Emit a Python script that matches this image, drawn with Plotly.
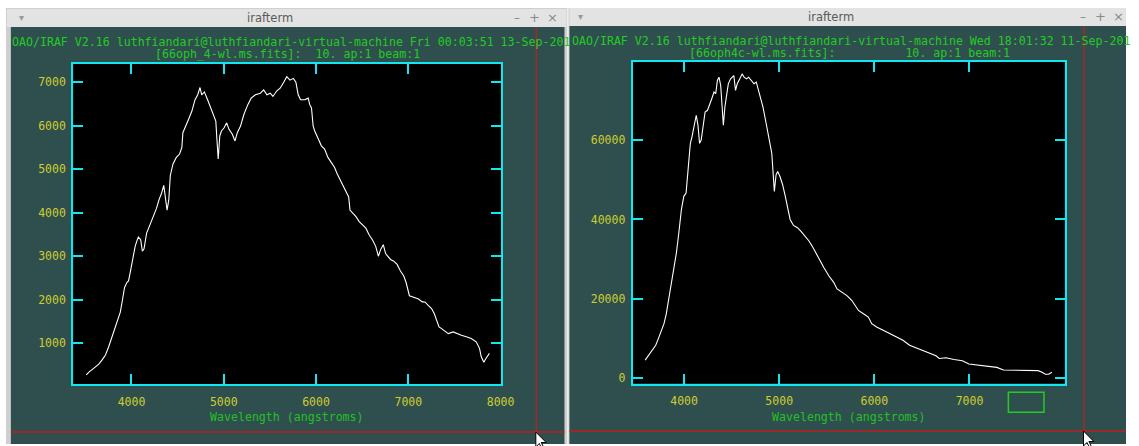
import plotly.graph_objects as go

W, H = 1139, 446

# ---------------- data ----------------
left_wave = [3510, 3539, 3593, 3646, 3682, 3718, 3753, 3789, 3825, 3853, 3879, 3904, 3925, 3950, 3968,
             3986, 4004, 4021, 4040, 4057, 4075, 4100, 4118, 4136, 4164, 4200, 4236, 4271, 4297, 4325,
             4350, 4372, 4386, 4404, 4421, 4450, 4486, 4521, 4546, 4557, 4582, 4618, 4654, 4689, 4718,
             4743, 4761, 4790, 4825, 4861, 4897, 4914, 4925, 4940, 4957, 4975, 5004, 5032, 5057, 5093,
             5122, 5147, 5182, 5218, 5261, 5297, 5343, 5397, 5433, 5468, 5504, 5533, 5576, 5611, 5647,
             5683, 5718, 5754, 5782, 5807, 5833, 5879, 5915, 5932, 5951, 5969, 5986, 6022, 6058, 6093,
             6129, 6165, 6200, 6229, 6265, 6290, 6326, 6354, 6368, 6404, 6433, 6468, 6504, 6540, 6575,
             6611, 6647, 6676, 6700, 6729, 6754, 6790, 6807, 6843, 6879, 6915, 6951, 6976, 6997, 7012,
             7058, 7111, 7147, 7183, 7218, 7254, 7282, 7307, 7333, 7361, 7397, 7433, 7486, 7522, 7575,
             7629, 7682, 7736, 7772, 7790, 7818, 7843, 7879]
left_flux = [270, 334, 425, 516, 614, 727, 918, 1145, 1334, 1523, 1714, 2016, 2282, 2395, 2432,
             2623, 2850, 3000, 3227, 3341, 3441, 3380, 3114, 3168, 3532, 3720, 3909, 4100, 4289, 4441,
             4630, 4289, 4061, 4289, 4857, 5123, 5273, 5350, 5500, 5841, 5955, 6145, 6334, 6600, 6714,
             6880, 6714, 6780, 6600, 6409, 6182, 6107, 5727, 5236, 5766, 5880, 5955, 6068, 5918, 5805,
             5652, 5841, 5993, 6259, 6486, 6636, 6714, 6750, 6827, 6714, 6750, 6675, 6805, 6864, 6990,
             7130, 7050, 7091, 7000, 6714, 6600, 6600, 6636, 6486, 6409, 5993, 5880, 5690, 5539, 5464,
             5273, 5159, 5045, 4895, 4743, 4630, 4477, 4364, 4061, 3986, 3909, 3795, 3720, 3645, 3493,
             3380, 3227, 3000, 3152, 3266, 3060, 2964, 2925, 2886, 2811, 2659, 2545, 2395, 2168, 2091,
             2055, 2016, 1955, 1941, 1864, 1789, 1675, 1523, 1373, 1334, 1273, 1220, 1259, 1220, 1182,
             1145, 1107, 1032, 880, 691, 561, 652, 766]

right_wave = [3591, 3615, 3639, 3667, 3702, 3730, 3761, 3789, 3813, 3834, 3851, 3875, 3903, 3920, 3945,
              3972, 3997, 4021, 4042, 4066, 4083, 4107, 4128, 4146, 4163, 4180, 4198, 4221, 4246, 4273,
              4291, 4315, 4333, 4350, 4367, 4385, 4402, 4413, 4429, 4447, 4465, 4489, 4506, 4523, 4541,
              4559, 4586, 4610, 4631, 4655, 4679, 4707, 4735, 4759, 4776, 4800, 4829, 4863, 4897, 4922,
              4936, 4949, 4967, 4984, 5008, 5036, 5060, 5088, 5115, 5150, 5192, 5227, 5271, 5313, 5355,
              5400, 5417, 5469, 5521, 5573, 5608, 5660, 5712, 5764, 5798, 5833, 5885, 5937, 5972, 6024,
              6093, 6162, 6232, 6301, 6370, 6440, 6509, 6578, 6648, 6682, 6752, 6838, 6925, 6994, 7098,
              7202, 7288, 7357, 7479, 7617, 7721, 7763, 7797, 7832, 7867]
right_flux = [4580, 5420, 6250, 7080, 8330, 10000, 12080, 13750, 16250, 19170, 22500, 25000, 29170, 31670, 36670,
              42500, 45830, 46670, 52500, 59170, 60830, 64170, 66250, 63750, 59170, 60000, 63330, 67080, 67500, 69580,
              70420, 72080, 71670, 75000, 75830, 73750, 67500, 63750, 68330, 71250, 74170, 75420, 75830, 76250, 72500,
              74170, 75420, 76670, 75830, 75420, 75830, 75000, 74170, 74580, 72920, 70830, 68330, 64170, 60000, 56670,
              51670, 47080, 51250, 52080, 50830, 48750, 46250, 43330, 40000, 38500, 37920, 37080, 35830, 34580, 32920,
              30830, 30000, 27920, 25830, 24170, 22500, 21670, 20830, 19580, 18330, 17080, 16250, 15420, 13750, 12920,
              12080, 11250, 10420, 9580, 8330, 7670, 7080, 6420, 5670, 5000, 5170, 4750, 4420, 3580, 3330,
              3080, 2750, 2080, 2080, 2000, 1920, 1500, 1000, 1000, 1500]

left_xticks = [4000, 5000, 6000, 7000, 8000]
left_yticks = [1000, 2000, 3000, 4000, 5000, 6000, 7000]
right_xticks = [4000, 5000, 6000, 7000]
right_yticks = [0, 20000, 40000, 60000]

left_header = "OAO/IRAF V2.16 luthfiandari@luthfiandari-virtual-machine Fri 00:03:51 13-Sep-201"
left_sub = "[66oph_4-wl.ms.fits]:\u00a0\u00a010.\u00a0ap:1\u00a0beam:1"
right_header = "OAO/IRAF V2.16 luthfiandari@luthfiandari-virtual-machine Wed 18:01:32 11-Sep-201"
right_sub = "[66oph4c-wl.ms.fits]:" + "\u00a0" * 10 + "10.\u00a0ap:1\u00a0beam:1"
xlabel = "Wavelength (angstroms)"
window_title = "irafterm"

# ---------------- styling ----------------
SLATE = "#2f4f4f"
CYAN = "#12e6ee"
YEL = "#cdcd30"
GRN = "#22cc22"
RED = "#c01c1c"
MONO = "DejaVu Sans Mono"

L_DOM = (74, 507, 64, 385.7)     # x0, x1, ytop, ybottom in pixels
R_DOM = (640, 1077, 62, 385.3)


def X(p):
    return p / W


def Y(p):
    return 1 - p / H


def rect(x0, y0, x1, y1, fill, line=None, lw=0):
    return dict(type="rect", xref="paper", yref="paper", x0=X(x0), x1=X(x1), y0=Y(y1), y1=Y(y0),
                fillcolor=fill, line=dict(color=line or fill, width=lw), layer="below")


def hline(x0, x1, y, color, w):
    return dict(type="line", xref="paper", yref="paper", x0=X(x0), x1=X(x1), y0=Y(y), y1=Y(y),
                line=dict(color=color, width=w), layer="above")


def vline(x, y0, y1, color, w):
    return dict(type="line", xref="paper", yref="paper", x0=X(x), x1=X(x), y0=Y(y0), y1=Y(y1),
                line=dict(color=color, width=w), layer="above")


def cursor(x, y):
    pts = [(0, 0), (0, 15), (3.5, 11.5), (6.5, 17.5), (8.5, 16.5), (5.5, 10.5), (10.5, 10.5)]
    d = "M " + " L ".join(f"{X(x + a):.5f},{Y(y + b):.5f}" for a, b in pts) + " Z"
    return dict(type="path", xref="paper", yref="paper", path=d, fillcolor="#ffffff",
                line=dict(color="#000000", width=1), layer="above")


shapes = [
    # left window
    rect(6, 8, 574, 446, "#cfcfcf"),
    rect(7, 9, 573, 27, "#e3e3e3"),
    rect(11, 27, 571, 446, SLATE),
    # gap between windows
    rect(573.5, 8, 575, 446, "#ececec"),
    # right window
    rect(575, 8, 1139, 446, "#cfcfcf"),
    rect(576, 8, 1139, 26, "#e3e3e3"),
    rect(576, 26, 1139, 446, SLATE),
    # black plotting areas
    rect(L_DOM[0], L_DOM[2], L_DOM[1], L_DOM[3], "#000000"),
    rect(R_DOM[0], R_DOM[2], R_DOM[1], R_DOM[3], "#000000"),
    # crosshair cursors
    vline(542.5, 27, 434, "#a82626", 1.5),
    hline(11, 571, 434, RED, 1.5),
    vline(1096.5, 26, 433, "#a82626", 1.5),
    hline(576, 1139, 433, RED, 1.5),
    cursor(542, 434),
    cursor(1096, 433),
    # green box
    dict(type="rect", xref="paper", yref="paper", x0=X(1020), x1=X(1056), y0=Y(414), y1=Y(394),
         line=dict(color=GRN, width=1.5), fillcolor="rgba(0,0,0,0)", layer="above"),
]

annotations = []


def ann(text, x, y, xanchor="left", color=GRN, size=11.6, family=MONO):
    annotations.append(dict(text=text, x=X(x), y=Y(y), xref="paper", yref="paper", showarrow=False,
                            xanchor=xanchor, yanchor="middle", font=dict(family=family, size=size, color=color)))


ann(left_header, 10.5, 42)
ann(left_sub, 291, 54, "center")
ann(right_header, 576.5, 41)
ann(right_sub, 859.5, 53, "center")
ann(xlabel, 290.5, 419, "center", color="#22c022")
ann(xlabel, 858.5, 419, "center", color="#22c022")
ann(window_title, 273.5, 18, "center", color="#5a5a5a", size=11.5, family="DejaVu Sans")
ann(window_title, 841, 17, "center", color="#5a5a5a", size=11.5, family="DejaVu Sans")
for xx, yy, t in [(22, 18, "\u25be"), (587, 17, "\u25be")]:
    ann(t, xx, yy, "center", color="#9a9a9a", size=10, family="DejaVu Sans")
for base, yy in [(0, 18), (572, 17)]:
    ann("\u2013", 523 + base, yy, "center", color="#8a8a8a", size=12, family="DejaVu Sans")
    ann("+", 541 + base, yy, "center", color="#8a8a8a", size=13, family="DejaVu Sans")
    ann("\u00d7", 559 + base, yy, "center", color="#8a8a8a", size=13, family="DejaVu Sans")

fig = go.Figure()
fig.add_trace(go.Scatter(x=left_wave, y=left_flux, mode="lines", line=dict(color="#ffffff", width=1.1),
                         xaxis="x", yaxis="y", hoverinfo="skip"))
fig.add_trace(go.Scatter(x=right_wave, y=right_flux, mode="lines", line=dict(color="#ffffff", width=1.1),
                         xaxis="x2", yaxis="y2", hoverinfo="skip"))

axis_common = dict(showline=True, linecolor=CYAN, linewidth=2, mirror="ticks", ticks="inside",
                   ticklen=10, tickwidth=2, tickcolor=CYAN, showgrid=False, zeroline=False,
                   tickformat="d",
                   tickfont=dict(family=MONO, size=11.5, color=YEL), fixedrange=True)

fig.update_layout(
    width=W, height=H, autosize=False, margin=dict(l=0, r=0, t=0, b=0),
    paper_bgcolor="#ffffff", plot_bgcolor="#000000", showlegend=False,
    xaxis=dict(domain=[X(L_DOM[0]), X(L_DOM[1])], range=[3368, 8007], tickvals=left_xticks,
               ticklabelstandoff=6, anchor="y", **axis_common),
    yaxis=dict(domain=[Y(L_DOM[3]), Y(L_DOM[2])], range=[61, 7428], tickvals=left_yticks,
               ticklabelstandoff=3, anchor="x", **axis_common),
    xaxis2=dict(domain=[X(R_DOM[0]), X(R_DOM[1])], range=[3460, 8001], tickvals=right_xticks,
                ticklabelstandoff=6, anchor="y2", **axis_common),
    yaxis2=dict(domain=[Y(R_DOM[3]), Y(R_DOM[2])], range=[-1330, 79730], tickvals=right_yticks,
                ticklabelstandoff=3, anchor="x2", **axis_common),
    shapes=shapes, annotations=annotations,
)

fig.write_html("out.html", config={"displayModeBar": False, "responsive": False},
               post_script="document.body.style.margin='0px';document.body.style.overflow='hidden';")
